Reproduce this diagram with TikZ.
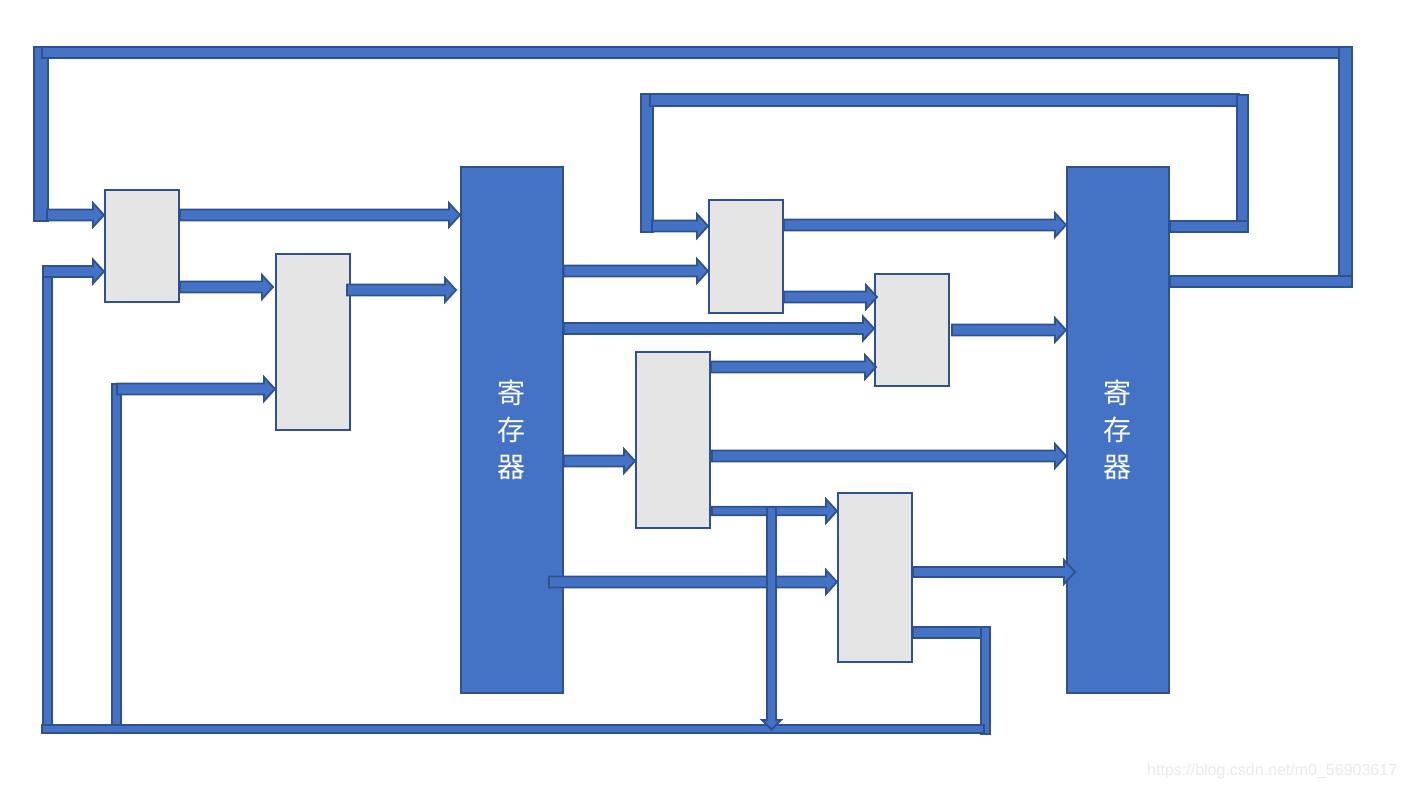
\documentclass[tikz,border=0pt]{standalone}
\usepackage{fontspec}
\setmainfont{Liberation Sans}
\newfontfamily\cjk{Noto Sans CJK SC}
\usetikzlibrary{calc}
\definecolor{barblue}{HTML}{4472C4}
\definecolor{baredge}{HTML}{2F528F}
\definecolor{boxgray}{HTML}{E5E5E5}
\definecolor{wmgray}{HTML}{EAEAEA}
\tikzset{
  bar/.style={fill=barblue, draw=baredge, line width=1.8pt, line join=miter},
  graybox/.style={rectangle, fill=boxgray, draw=baredge, line width=2pt, inner sep=0pt, anchor=north west},
  regbox/.style={rectangle, fill=barblue, draw=baredge, line width=1.8pt, inner sep=0pt, anchor=north west,
    minimum width=102pt, minimum height=526pt, text=white, font=\cjk\fontsize{28}{37}\selectfont, align=center},
}
% horizontal block arrow: [shaft half-thickness]{start}{end}
\newcommand\HArrow[3][5.5]{\path[bar] let \p1=#2, \p2=#3 in
  (\x1,\y1+#1pt) -- (\x2-11pt,\y1+#1pt) -- (\x2-11pt,\y1+12pt) -- (\x2,\y1) --
  (\x2-11pt,\y1-12pt) -- (\x2-11pt,\y1-#1pt) -- (\x1,\y1-#1pt) -- cycle;}
\begin{document}
\begin{tikzpicture}[x=1pt,y=-1pt]
\useasboundingbox[fill=white] (0,0) rectangle (1404,789);

% registers
\node[regbox] (R1) at (460,166) {寄\\存\\器};
\node[regbox] (R2) at (1066,166) {寄\\存\\器};

% gray blocks
\node[graybox, minimum width=74pt, minimum height=112pt] (B1) at (104,189) {};
\node[graybox, minimum width=74pt, minimum height=176pt] (B2) at (275,253) {};
\node[graybox, minimum width=74pt, minimum height=113pt] (B3) at (708,199) {};
\node[graybox, minimum width=74pt, minimum height=112pt] (B4) at (874,273) {};
\node[graybox, minimum width=74pt, minimum height=176pt] (B5) at (635,351) {};
\node[graybox, minimum width=74pt, minimum height=169pt] (B6) at (837,492) {};

% outer feedback loop (R2 -> B1)
\path[bar] (34,47) rectangle (48,221);
\path[bar] (42,47) rectangle (1352,58);
\path[bar] (1339,47) rectangle (1352,287);
\path[bar] (1170,276) rectangle (1352,287);
\coordinate (o1) at (47,215);
\HArrow{(o1)}{(B1.west|-0,215)}

% inner feedback loop (R2 -> B3)
\path[bar] (641,94) rectangle (653,232);
\path[bar] (650,94) rectangle (1239,106);
\path[bar] (1237,95) rectangle (1248,232);
\path[bar] (R2.east|-0,221) rectangle (1248,232);
\coordinate (i1) at (652,226);
\HArrow{(i1)}{(B3.west|-0,226)}

% bottom feedback (B6 -> B1, B2)
\path[bar] (B6.east|-0,627) rectangle (990,638);
\path[bar] (981,627) rectangle (990,734);
\path[bar] (42,725) rectangle (984,733);
\path[bar] (43,272) rectangle (52,725);
\path[bar] (112,384) rectangle (121,725);
\coordinate (l1) at (43,271.5);
\coordinate (l2) at (117,389);
\HArrow{(l1)}{(B1.west|-0,271.5)}
\HArrow{(l2)}{(B2.west|-0,389)}

% forward arrows
\HArrow{(B1.east|-0,215)}{(R1.west|-0,215)}
\HArrow{(B1.east|-0,287)}{(273,287)}
\HArrow{(347,290)}{(456,290)}
\HArrow{(R1.east|-0,271)}{(B3.west|-0,271)}
\HArrow{(R1.east|-0,328.5)}{(B4.west|-0,328.5)}
\HArrow{(R1.east|-0,461)}{(B5.west|-0,461)}
\coordinate (r1) at (549,582);
\HArrow{(r1)}{(B6.west|-0,582)}
\HArrow{(B3.east|-0,225)}{(R2.west|-0,225)}
\HArrow{(B3.east|-0,297)}{(877,297)}
\HArrow{(952,330)}{(R2.west|-0,330)}
\HArrow{(B5.east|-0,367)}{(876,367)}
\HArrow{(712,456)}{(R2.west|-0,456)}
\HArrow[4.2]{(712,511)}{(B6.west|-0,511)}
\HArrow[5]{(B6.east|-0,572)}{(1075,572)}

% down arrow from B5 output to bottom bus
\path[bar] (767,507) -- (767,720) -- (762,720) -- (771.5,729.5) -- (781,720) -- (776,720) -- (776,507) -- cycle;

% watermark
\node[anchor=west, text=wmgray, font=\fontsize{16}{16}\selectfont, inner sep=0pt] (wm) at (1147,771) {https://blog.csdn.net/m0\_56903617};
\end{tikzpicture}
\end{document}
